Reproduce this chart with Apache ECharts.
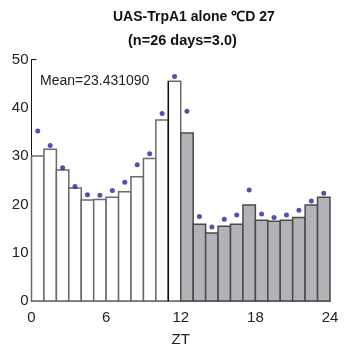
<!DOCTYPE html>
<html>
<head>
<meta charset="utf-8">
<script src="https://cdn.jsdelivr.net/npm/echarts@6/dist/echarts.min.js"></script>
<style>
  html, body { margin: 0; padding: 0; background: #fff; }
  #chart { width: 345px; height: 354px; }
</style>
</head>
<body>
<div id="chart"></div>
<script>
// Hourly activity (ZT bins) – light phase bins 0-11, dark phase bins 12-23
const binStarts = [0,1,2,3,4,5,6,7,8,9,10,11,12,13,14,15,16,17,18,19,20,21,22,23];
const barValues = [30.0,31.4,27.1,23.4,20.9,21.0,21.5,22.6,25.7,29.5,37.5,45.5,
                   34.8,15.9,14.1,15.5,15.9,19.9,16.7,16.5,16.7,17.3,19.9,21.5];
const dotValues = [35.2,32.2,27.6,23.7,22.0,21.9,22.9,24.6,28.2,30.5,38.8,46.5,
                   39.3,17.5,15.3,16.9,17.8,23.0,18.0,17.3,17.8,18.8,20.7,22.3];
const xTicks = [0, 6, 12, 18, 24];
const yTicks = [0, 10, 20, 30, 40, 50];
const titleLine1 = 'UAS-TrpA1 alone \u2103D 27';
const titleLine2 = '(n=26 days=3.0)';
const meanText = 'Mean=23.431090';
const lightsOffBin = 12;
const edgeBin = 11;

const chart = echarts.init(document.getElementById('chart'), null, { renderer: 'canvas' });

const font = '"Liberation Sans", Arial, Helvetica, sans-serif';

const barData = binStarts.map((s, i) => [s, barValues[i]]);
const dotData = binStarts.map((s, i) => [s + 0.5, dotValues[i]]);

chart.setOption({
  animation: false,
  grid: { left: 31.5, right: 15, top: 59.5, bottom: 53, containLabel: false },
  graphic: [
    { type: 'text', left: 113, top: 10.5, style: { text: titleLine1, font: 'bold 14px ' + font, fill: '#111' } },
    { type: 'text', left: 128, top: 33, style: { text: titleLine2, font: 'bold 14.5px ' + font, fill: '#111' } },
    { type: 'text', left: 40, top: 74, style: { text: meanText, font: '14px ' + font, fill: '#222' } }
  ],
  xAxis: {
    type: 'value', min: 0, max: 24, interval: 6,
    name: 'ZT', nameLocation: 'middle', nameGap: 31,
    nameTextStyle: { fontFamily: font, fontSize: 15, color: '#222' },
    axisLine: { show: true, lineStyle: { color: '#777', width: 1.5 } },
    axisTick: { show: false },
    axisLabel: { fontFamily: font, fontSize: 15, color: '#222', margin: 9,
                 customValues: xTicks },
    splitLine: { show: false }
  },
  yAxis: {
    type: 'value', min: 0, max: 50, interval: 10,
    axisLine: { show: true, lineStyle: { color: '#111', width: 1 } },
    axisTick: { show: true, inside: true, length: 5, lineStyle: { color: '#111' }, customValues: [50] },
    axisLabel: { fontFamily: font, fontSize: 15, color: '#222', margin: 3,
                 customValues: yTicks },
    splitLine: { show: false }
  },
  series: [
    {
      type: 'custom',
      data: barData,
      renderItem: function (params, api) {
        const s = api.value(0), v = api.value(1);
        const p0 = api.coord([s, 0]);
        const p1 = api.coord([s + 1, v]);
        const dark = s >= lightsOffBin;
        return {
          type: 'rect',
          shape: { x: p0[0], y: p1[1], width: p1[0] - p0[0], height: p0[1] - p1[1] },
          style: {
            fill: dark ? '#b3b3b7' : '#ffffff',
            stroke: dark ? '#4a4a4a' : '#6a6a6a',
            lineWidth: 1.5
          }
        };
      },
      z: 2
    },
    {
      type: 'line',
      data: [[edgeBin, 0], [edgeBin, barValues[edgeBin]]],
      symbol: 'none',
      lineStyle: { color: '#000', width: 1.2 },
      z: 3
    },
    {
      type: 'scatter',
      data: dotData,
      symbol: 'circle',
      symbolSize: 5,
      itemStyle: { color: '#25259a' },
      z: 4
    }
  ]
});
</script>
</body>
</html>
